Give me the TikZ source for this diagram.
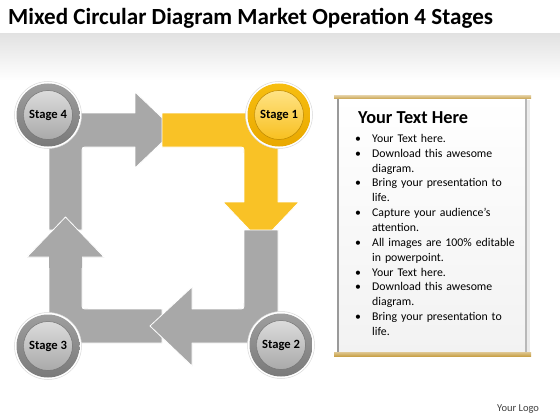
\documentclass[tikz,border=0pt]{standalone}
\usepackage{fontspec}
\setmainfont{Carlito}
\definecolor{bandgray}{HTML}{E2E2E2}
\definecolor{bargray}{HTML}{A8A8A8}
\definecolor{baryel}{HTML}{F9C226}
\definecolor{ringtop}{HTML}{9E9E9E}
\definecolor{ringbot}{HTML}{7A7A7A}
\definecolor{btntop}{HTML}{DCDCDC}
\definecolor{btnbot}{HTML}{A9A9A9}
\definecolor{yringtop}{HTML}{F7BE10}
\definecolor{yringbot}{HTML}{E9A800}
\definecolor{ybtntop}{HTML}{FFE385}
\definecolor{ybtnbot}{HTML}{F8C020}
\definecolor{gold}{HTML}{C9A24A}
\definecolor{panel}{HTML}{F2F2F2}
\definecolor{panelside}{HTML}{9A9A9A}
\newcommand\bulitem{\hangindent=17pt\hangafter=1\noindent\makebox[17pt][l]{\textbullet}}
\tikzset{
  barshape/.style={fill=bargray, draw=white, line width=0.8pt, line join=round},
  yelshape/.style={fill=baryel, draw=white, line width=0.8pt, line join=round},
  halo/.style={circle, minimum size=67pt, inner sep=0, fill=white, draw=black!15, line width=0.5pt},
  grayring/.style={circle, minimum size=63pt, inner sep=0, top color=ringtop, bottom color=ringbot},
  yelring/.style={circle, minimum size=63pt, inner sep=0, top color=yringtop, bottom color=yringbot},
  graybtn/.style={circle, minimum size=49pt, inner sep=0, top color=btntop, bottom color=btnbot, draw=black!55, line width=0.5pt, font=\bfseries\fontsize{12.6}{14}\selectfont},
  yelbtn/.style={circle, minimum size=49pt, inner sep=0, top color=ybtntop, bottom color=ybtnbot, draw=yringbot!80!black, line width=0.5pt, font=\bfseries\fontsize{12.6}{14}\selectfont},
}
\begin{document}
\begin{tikzpicture}[x=1pt,y=-1pt]
\useasboundingbox (0,0) rectangle (560,420);
\fill[white] (0,0) rectangle (560,420);
\shade[top color=bandgray, bottom color=white] (0,34) rectangle (560,80);
\node[anchor=base west, inner sep=0, font=\bfseries\fontsize{23.1}{28}\selectfont] (title) at (8,25) {Mixed Circular Diagram Market Operation 4 Stages};

% Stage 3 L (bottom-left, arrow up)
\path[barshape] (162,309) -- (88,309) .. controls (82,309) .. (82,303) -- (82,257) -- (104,257) -- (65.5,217) -- (27,257) -- (49,257) -- (49,343) -- (162,343) -- cycle;
% Stage 4 L (top-left, arrow right)
\path[barshape] (49,230) -- (49,113) -- (135,113) -- (135,92) -- (175,130) -- (135,168) -- (135,147) -- (88,147) .. controls (82,147) .. (82,153) -- (82,230) -- cycle;
% Stage 1 L (yellow, arrow down)
\path[yelshape] (162,113) -- (278,113) -- (278,202) -- (299,202) -- (261,242) -- (223,202) -- (244,202) -- (244,153) .. controls (244,147) .. (238,147) -- (162,147) -- cycle;
% Stage 2 L (bottom-right, arrow left)
\path[barshape] (278,230) -- (278,343) -- (192,343) -- (192,366) -- (150,326) -- (192,287) -- (192,309) -- (238,309) .. controls (244,309) .. (244,303) -- (244,230) -- cycle;
% Stage 3 head on top
\path[barshape] (49,266) -- (49,257) -- (27,257) -- (65.5,217) -- (104,257) -- (82,257) -- (82,266);
\fill[bargray] (49.4,256) rectangle (81.6,268);

% circles
\node[halo] (h4) at (48,115) {};
\node[grayring] (r4) at (48,115) {};
\node[graybtn] (s4) at (48,115) {Stage 4};
\node[halo] (h1) at (279,115) {};
\node[yelring] (r1) at (279,115) {};
\node[yelbtn] (s1) at (279,115) {Stage 1};
\node[halo] (h2) at (281,345) {};
\node[grayring] (r2) at (281,345) {};
\node[graybtn] (s2) at (281,345) {Stage 2};
\node[halo] (h3) at (48,346) {};
\node[grayring] (r3) at (48,346) {};
\node[graybtn] (s3) at (48,346) {Stage 3};

% text panel
\fill[black!8] (340,100) rectangle (530,357);
\shade[top color=white, bottom color=panel] (337,97) rectangle (527,354);
\fill[panelside] (337,98) rectangle (338.6,353);
\fill[panelside!70] (525.4,98) rectangle (527,353);
\shade[top color=gold!60, bottom color=gold] (334,96) rectangle (531,99);
\shade[top color=gold!60, bottom color=gold] (334,352) rectangle (531,356);
\node[anchor=base west, inner sep=0, font=\bfseries\fontsize{18.3}{20}\selectfont] (head) at (358,124) {Your Text Here};
\node[anchor=north west, inner sep=0, text width=175pt, font=\fontsize{11.8}{14.85}\selectfont] (list) at (355,134) {\raggedright
\bulitem Your Text here.\par
\bulitem Download this awesome\newline diagram.\par
\bulitem Bring your presentation to\newline life.\par
\bulitem Capture your audience’s\newline attention.\par
\bulitem All images are 100\% editable\newline in powerpoint.\par
\bulitem Your Text here.\par
\bulitem Download this awesome\newline diagram.\par
\bulitem Bring your presentation to\newline life.\par};

\node[anchor=base west, inner sep=0, text=black!75, font=\fontsize{10.5}{12}\selectfont] (logo) at (497,411) {Your Logo};
\end{tikzpicture}
\end{document}
